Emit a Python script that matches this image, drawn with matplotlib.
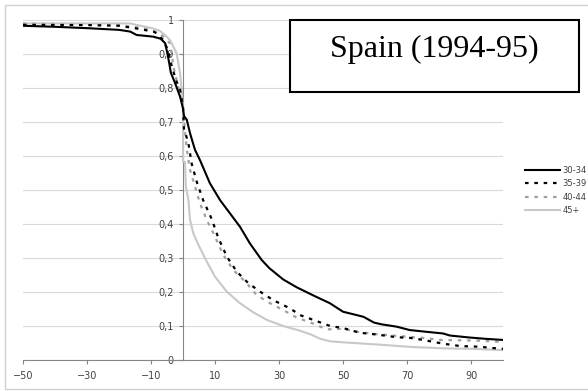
import matplotlib
matplotlib.use("Agg")
import matplotlib.pyplot as plt
from matplotlib.patches import Rectangle
from matplotlib.ticker import FuncFormatter

# survival-type curves by age group, x = days relative to event
x_30_34 = [-50, -40, -30, -20, -16.5, -14.5, -9.3, -7, -5.6, -4.9, -4.3, -3.8, -2.5, -0.9, 0, 0.3,
           1.2, 2.2, 3.75, 5.3, 8.4, 11.6, 14.7, 17.8, 20.9, 24.6, 27, 31.3, 35.5, 40.7, 45.9,
           50, 54.3, 56.4, 59.7, 62, 66.8, 70.9, 76, 81.3, 83.4, 89.7, 95, 100]
y_30_34 = [0.983, 0.980, 0.976, 0.971, 0.966, 0.956, 0.951, 0.945, 0.932, 0.903, 0.873, 0.845,
           0.815, 0.774, 0.74, 0.718, 0.706, 0.667, 0.618, 0.588, 0.52, 0.47, 0.431, 0.392,
           0.343, 0.294, 0.27, 0.237, 0.214, 0.19, 0.167, 0.142, 0.132, 0.127, 0.11, 0.105,
           0.098, 0.088, 0.083, 0.078, 0.072, 0.066, 0.062, 0.059]

x_35_39 = [-50, -30, -20, -14.5, -9.3, -8.2, -6.2, -4.7, -3.5, -2, -0.9, 0, 0.3, 1.7, 2.7,
           4.3, 6.3, 9, 11, 13.7, 16.8, 20.4, 24.1, 28.2, 33.4, 36.6, 40.7, 46, 50, 55.3,
           60.5, 66.8, 71, 75, 81.3, 86.6, 92.8, 97, 100]
y_35_39 = [0.986, 0.985, 0.983, 0.975, 0.966, 0.961, 0.941, 0.912, 0.863, 0.819, 0.794, 0.745,
           0.681, 0.637, 0.578, 0.524, 0.47, 0.414, 0.36, 0.304, 0.26, 0.226, 0.201, 0.176,
           0.152, 0.132, 0.118, 0.1, 0.094, 0.08, 0.075, 0.067, 0.065, 0.059, 0.048, 0.041,
           0.039, 0.035, 0.033]

x_40_44 = [-50, -20, -11.4, -7.2, -4, -3, -1.5, 0, 0.6, 1.2, 2.2, 3.75, 5.3, 7.4, 9.5, 12.6,
           15.7, 19.9, 23, 27.2, 31.3, 35.5, 40.7, 44.9, 50, 55, 60.5, 66.8, 71, 76.2, 80,
           86, 92, 98, 100]
y_40_44 = [0.99, 0.985, 0.975, 0.961, 0.931, 0.863, 0.804, 0.745, 0.676, 0.618, 0.559, 0.51,
           0.461, 0.412, 0.373, 0.309, 0.265, 0.226, 0.191, 0.167, 0.147, 0.125, 0.107, 0.09,
           0.092, 0.082, 0.076, 0.071, 0.068, 0.064, 0.059, 0.058, 0.057, 0.054, 0.053]

x_45 = [-50, -16.6, -9.3, -7.2, -5.1, -4, -2, -0.9, -0.4, 0, 0, 0.6, 0.9, 1.7, 2.2, 3.2, 5,
        7.4, 10, 13.7, 17.8, 22, 26.2, 31.3, 36.6, 40, 43, 46, 50, 55, 61.6, 72, 82.4, 90, 100]
y_45 = [0.99, 0.99, 0.975, 0.968, 0.951, 0.94, 0.902, 0.843, 0.794, 0.735, 0.583, 0.583, 0.51,
        0.47, 0.412, 0.373, 0.335, 0.29, 0.245, 0.201, 0.167, 0.14, 0.118, 0.1, 0.086, 0.075,
        0.062, 0.055, 0.052, 0.049, 0.045, 0.038, 0.034, 0.033, 0.029]

labels = ["30-34", "35-39", "40-44", "45+"]
x_ticks = [-50, -30, -10, 10, 30, 50, 70, 90]
y_ticks = [0, 0.1, 0.2, 0.3, 0.4, 0.5, 0.6, 0.7, 0.8, 0.9, 1]

W, H = 588, 391
fig = plt.figure(figsize=(W / 100, H / 100), dpi=100)
ax = fig.add_axes([23 / W, 1 - 360 / H, 480 / W, 340 / H])

ax.plot(x_30_34, y_30_34, color="black", lw=1.5, zorder=4, label=labels[0])
ax.plot(x_35_39, y_35_39, color="black", lw=1.6, ls=(0, (1.6, 2.6)), zorder=4, label=labels[1])
ax.plot(x_40_44, y_40_44, color="#a0a0a0", lw=1.6, ls=(0, (1.6, 2.6)), zorder=3, label=labels[2])
ax.plot(x_45, y_45, color="#c8c8c8", lw=1.5, zorder=3, label=labels[3])

ax.set_xlim(-50, 100)
ax.set_ylim(0, 1)
ax.set_xticks(x_ticks)
ax.set_yticks(y_ticks)
ax.yaxis.set_major_formatter(FuncFormatter(lambda v, p: ("%g" % v).replace(".", ",")))
ax.grid(axis="y", color="#d9d9d9", lw=0.8)
ax.set_axisbelow(True)

for s in ["top", "right"]:
    ax.spines[s].set_visible(False)
ax.spines["left"].set_position(("data", 0))
ax.spines["left"].set_color("#868686")
ax.spines["bottom"].set_color("#868686")
ax.spines["left"].set_linewidth(0.8)
ax.spines["bottom"].set_linewidth(0.8)
ax.tick_params(colors="#868686", labelcolor="#404040", labelsize=7, length=3, width=0.8)
ax.tick_params(axis="x", pad=5)

# outer chart border (open on the right)
fig.patches.append(Rectangle((5 / W, 1 - 389 / H), 600 / W, 384 / H, transform=fig.transFigure,
                             fill=False, edgecolor="#d0d0d0", lw=1))

# title box
fig.patches.append(Rectangle((290 / W, 1 - 92 / H), 289 / W, 72 / H, transform=fig.transFigure,
                             facecolor="white", edgecolor="black", lw=1.5, zorder=5))
fig.text(434 / W, 1 - 49 / H, "Spain (1994-95)", family="Liberation Serif", fontsize=23,
         ha="center", va="center", zorder=6)

fig.legend(loc="center left", bbox_to_anchor=(521 / W, 1 - 190.5 / H), frameon=False,
           fontsize=6, handlelength=4.2, handletextpad=0.3, labelspacing=0.55, borderpad=0,
           labelcolor="#404040")

fig.savefig("out.png", dpi=100)
